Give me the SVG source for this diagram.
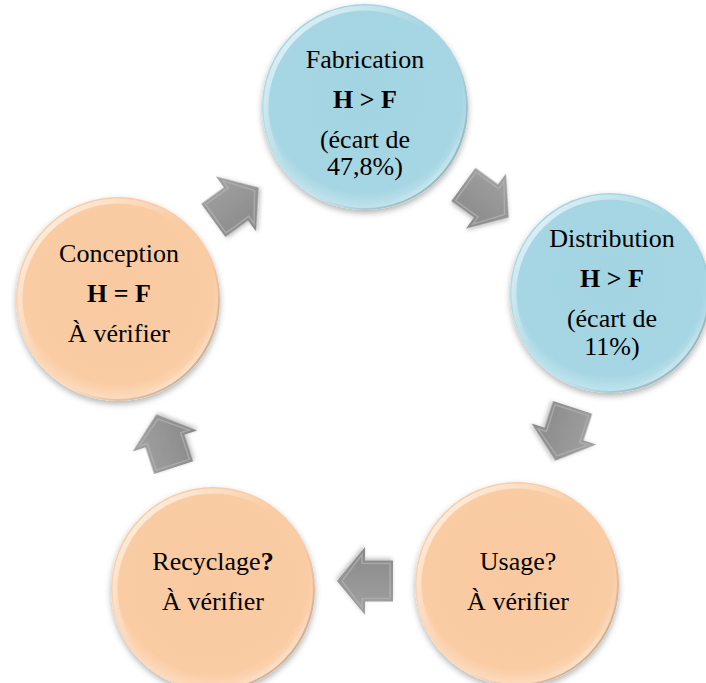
<svg xmlns="http://www.w3.org/2000/svg" width="706" height="683" viewBox="0 0 706 683">
<defs>
<radialGradient id="gBlue" cx="50%" cy="45%" r="55%">
<stop offset="0" stop-color="#A3D4E1"/>
<stop offset="0.85" stop-color="#A6D6E3"/>
<stop offset="1" stop-color="#C4E5EE"/>
</radialGradient>
<radialGradient id="gOrange" cx="50%" cy="45%" r="55%">
<stop offset="0" stop-color="#F9CAA1"/>
<stop offset="0.85" stop-color="#FACCA4"/>
<stop offset="1" stop-color="#FCDDC2"/>
</radialGradient>
<linearGradient id="rim" x1="0" y1="0" x2="1" y2="1">
<stop offset="0" stop-color="#FFFFFF" stop-opacity="0.85"/>
<stop offset="0.45" stop-color="#FFFFFF" stop-opacity="0"/>
<stop offset="0.8" stop-color="#FFFFFF" stop-opacity="0"/>
<stop offset="1" stop-color="#FFFFFF" stop-opacity="0.6"/>
</linearGradient>
<linearGradient id="edge" x1="0" y1="0" x2="1" y2="1">
<stop offset="0" stop-color="#000000" stop-opacity="0"/>
<stop offset="0.6" stop-color="#000000" stop-opacity="0"/>
<stop offset="1" stop-color="#000000" stop-opacity="0.3"/>
</linearGradient>
<linearGradient id="gArrow" x1="0" y1="0" x2="0" y2="1">
<stop offset="0" stop-color="#A2A2A2"/>
<stop offset="1" stop-color="#888888"/>
</linearGradient>
<filter id="sh" x="-20%" y="-20%" width="140%" height="140%">
<feDropShadow dx="0" dy="3" stdDeviation="3" flood-color="#000" flood-opacity="0.3"/>
</filter>
<filter id="ash" x="-30%" y="-30%" width="160%" height="160%">
<feDropShadow dx="1" dy="2" stdDeviation="2" flood-color="#000" flood-opacity="0.25"/>
</filter>
<polygon id="arr" points="-28,-20.5 0,-20.5 0,-34 28,0 0,34 0,20.5 -28,20.5"/>
<polygon id="arrIn" points="-25,-17.5 3,-17.5 3,-26.5 23,0 3,26.5 3,17.5 -25,17.5"/>
</defs>
<style>
.t{font-family:"Liberation Serif","Times New Roman",serif;font-size:26px;fill:#000;text-anchor:middle}
.b{font-weight:bold}
.blue{fill:url(#gBlue);filter:url(#sh)}
.orange{fill:url(#gOrange);filter:url(#sh)}
.rim{fill:none;stroke:url(#rim);stroke-width:5}
.edge{fill:none;stroke:url(#edge);stroke-width:2}
.a{fill:url(#gArrow);filter:url(#ash)}
.ai{fill:none;stroke:#B4B4B4;stroke-width:1.5;stroke-opacity:0.7}
</style>
<rect width="706" height="683" fill="#FFFFFF"/>
<g id="connectors">
<g transform="translate(486,201) rotate(36)"><use href="#arr" class="a"/><use href="#arrIn" class="ai"/></g>
<g transform="translate(564,434) rotate(108)"><use href="#arr" class="a"/><use href="#arrIn" class="ai"/></g>
<g transform="translate(365,581) rotate(180)"><use href="#arr" class="a"/><use href="#arrIn" class="ai"/></g>
<g transform="translate(165,441) rotate(252)"><use href="#arr" class="a"/><use href="#arrIn" class="ai"/></g>
<g transform="translate(236,204) rotate(324)"><use href="#arr" class="a"/><use href="#arrIn" class="ai"/></g>
</g>
<g id="fabrication">
<circle cx="365" cy="107" r="103" class="blue"/>
<circle cx="365" cy="107" r="99" class="rim"/>
<circle cx="365" cy="107" r="102" class="edge"/>
<text class="t" x="365" y="68">Fabrication</text>
<text class="t b" x="365" y="108">H &gt; F</text>
<text class="t" x="365" y="148">(écart de</text>
<text class="t" x="365" y="175">47,8%)</text>
</g>
<g id="distribution">
<circle cx="610" cy="293" r="100" class="blue"/>
<circle cx="610" cy="293" r="96" class="rim"/>
<circle cx="610" cy="293" r="99" class="edge"/>
<text class="t" x="612" y="247">Distribution</text>
<text class="t b" x="612" y="287">H &gt; F</text>
<text class="t" x="612" y="327">(écart de</text>
<text class="t" x="612" y="355">11%)</text>
</g>
<g id="usage">
<circle cx="517" cy="584" r="102" class="orange"/>
<circle cx="517" cy="584" r="98" class="rim"/>
<circle cx="517" cy="584" r="101" class="edge"/>
<text class="t" x="518" y="570">Usage?</text>
<text class="t" x="518" y="610">À vérifier</text>
</g>
<g id="recyclage">
<circle cx="213" cy="589" r="102" class="orange"/>
<circle cx="213" cy="589" r="98" class="rim"/>
<circle cx="213" cy="589" r="101" class="edge"/>
<text class="t" x="213" y="570">Recyclage<tspan class="b">?</tspan></text>
<text class="t" x="213" y="610">À vérifier</text>
</g>
<g id="conception">
<circle cx="118" cy="299" r="102" class="orange"/>
<circle cx="118" cy="299" r="98" class="rim"/>
<circle cx="118" cy="299" r="101" class="edge"/>
<text class="t" x="119" y="262">Conception</text>
<text class="t b" x="119" y="302">H = F</text>
<text class="t" x="119" y="342">À vérifier</text>
</g>
</svg>
